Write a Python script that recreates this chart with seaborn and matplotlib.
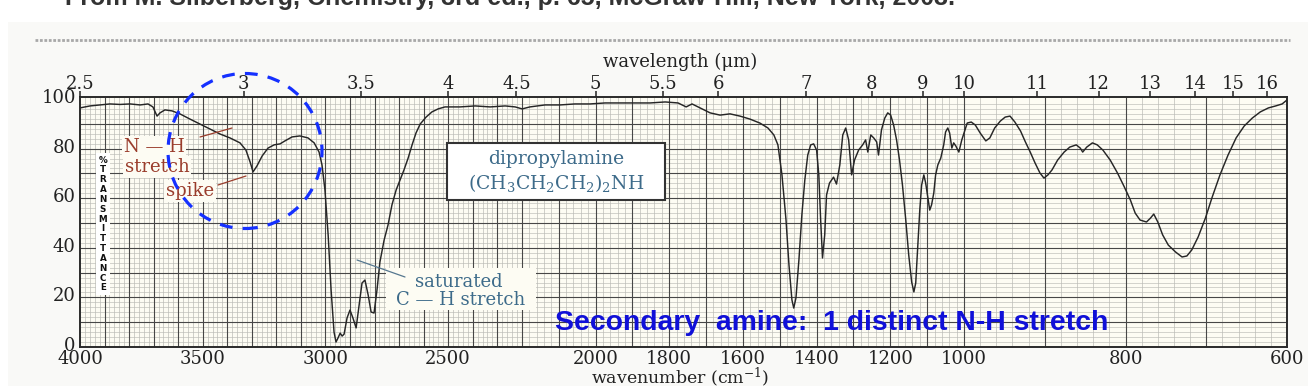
import numpy as np
import pandas as pd
import matplotlib
matplotlib.use('Agg')
import matplotlib.pyplot as plt
import seaborn as sns
from matplotlib.patches import Ellipse, Rectangle
from matplotlib.lines import Line2D
from matplotlib.ticker import NullLocator
from matplotlib.transforms import ScaledTranslation

# ---------------- data ----------------
wavenumber = [4000, 3959, 3918, 3878, 3837, 3796, 3755, 3723, 3703, 3686, 3674, 3654, 3625, 3593,
              3552, 3511, 3470, 3430, 3389, 3348, 3324, 3307, 3295, 3279, 3258, 3234, 3209, 3185,
              3165, 3136, 3104, 3071, 3046, 3026, 3014, 3002, 2989, 2977, 2965, 2957, 2949, 2940,
              2932, 2924, 2912, 2900, 2888, 2875, 2863, 2851, 2839, 2826, 2814, 2802, 2790, 2778,
              2761, 2745, 2729, 2712, 2696, 2680, 2663, 2647, 2631, 2614, 2590, 2566, 2541, 2513,
              2452, 2390, 2329, 2268, 2227, 2199, 2178, 2137, 2096, 2056, 2015, 1974, 1933, 1893,
              1852, 1811, 1776, 1754, 1738, 1716, 1689, 1662, 1635, 1608, 1581, 1554, 1532, 1516,
              1505, 1494, 1483, 1475, 1467, 1462, 1456, 1448, 1440, 1432, 1424, 1416, 1408, 1400,
              1394, 1389, 1384, 1378, 1373, 1365, 1354, 1346, 1337, 1329, 1321, 1313, 1305, 1297,
              1286, 1275, 1267, 1261, 1253, 1245, 1237, 1232, 1224, 1215, 1207, 1199, 1191, 1183,
              1175, 1167, 1158, 1150, 1142, 1136, 1131, 1126, 1120, 1115, 1109, 1104, 1098, 1093,
              1088, 1082, 1077, 1071, 1063, 1055, 1050, 1044, 1039, 1033, 1028, 1022, 1014, 1006,
              1000, 996, 991, 986, 980, 973, 968, 962, 955, 949, 943, 937, 930, 924, 918, 912, 906,
              901, 896, 891, 884, 876, 869, 861, 856, 853, 848, 841, 835, 828, 819, 810, 802, 794,
              788, 782, 774, 769, 765, 760, 754, 747, 738, 730, 724, 718, 710, 701, 693, 683, 673,
              663, 653, 643, 633, 623, 614, 606, 600]
transmittance = [96.4, 97.2, 97.6, 98.0, 97.8, 98.0, 97.6, 98.0, 96.8, 93.1, 94.4, 95.6, 95.2, 94.0,
                 91.9, 89.9, 87.9, 85.9, 84.3, 82.3, 79.4, 74.6, 70.6, 73.0, 77.0, 80.2, 81.5, 81.9,
                 83.1, 84.7, 85.1, 84.3, 82.3, 78.6, 73.4, 63.3, 45.2, 23.0, 6.0, 2.0, 3.6, 5.6,
                 4.4, 5.2, 11.7, 14.9, 11.7, 7.7, 16.9, 25.8, 27.0, 21.0, 14.1, 13.7, 23.0, 34.3,
                 43.1, 49.2, 57.3, 63.3, 67.3, 71.4, 76.2, 81.5, 86.3, 89.9, 92.7, 94.8, 96.0, 96.8,
                 96.8, 97.2, 96.8, 97.2, 96.8, 96.0, 96.8, 97.6, 97.6, 98.0, 98.0, 98.4, 98.4, 98.4,
                 98.4, 98.8, 98.4, 96.8, 98.0, 96.4, 94.4, 93.5, 94.0, 93.1, 91.9, 90.3, 88.3, 85.5,
                 81.5, 69.4, 51.2, 33.1, 19.0, 15.7, 19.8, 35.1, 53.2, 67.3, 77.4, 81.5, 81.9, 79.4,
                 69.4, 51.2, 35.9, 45.2, 61.3, 66.1, 68.5, 65.7, 73.4, 85.5, 88.3, 83.5, 69.4, 75.4,
                 79.4, 81.5, 83.5, 78.6, 85.5, 84.3, 82.7, 77.4, 87.5, 92.3, 94.4, 93.5, 89.5, 83.5,
                 75.4, 65.3, 51.2, 37.1, 26.2, 22.2, 25.8, 39.1, 55.2, 65.3, 69.4, 66.1, 60.1, 55.2,
                 57.3, 62.1, 69.4, 73.4, 76.2, 81.5, 86.7, 88.3, 86.3, 80.2, 82.3, 81.0, 78.6, 83.5,
                 86.3, 90.3, 90.7, 89.5, 86.3, 83.1, 84.3, 88.3, 91.1, 92.7, 93.1, 90.7, 87.1, 82.7,
                 78.6, 74.2, 70.2, 68.1, 69.4, 71.4, 75.4, 78.6, 80.6, 81.5, 80.2, 78.6, 80.6, 82.3,
                 81.5, 79.4, 75.4, 70.2, 64.9, 59.3, 54.0, 51.2, 50.4, 52.0, 53.6, 50.4, 45.2, 41.1,
                 38.3, 36.3, 36.7, 39.1, 44.4, 52.0, 60.1, 69.4, 77.4, 84.3, 89.1, 92.3, 94.8, 96.4,
                 97.2, 98.0, 99.6]
wavenumber_ticks = [4000, 3500, 3000, 2500, 2000, 1800, 1600, 1400, 1200, 1000, 800, 600]
wavelength_ticks = [2.5, 3, 3.5, 4, 4.5, 5, 5.5, 6, 7, 8, 9, 10, 11, 12, 13, 14, 15, 16]
transmittance_ticks = [0, 20, 40, 60, 80, 100]

df = pd.DataFrame({'wavenumber': wavenumber, 'transmittance': transmittance})

# ---------------- style ----------------
sns.set_theme(style='white')
plt.rcParams['font.family'] = ['DejaVu Serif']
plt.rcParams['mathtext.fontset'] = 'dejavuserif'

W, H = 1308, 386
fig = plt.figure(figsize=(W / 100, H / 100), dpi=100)
fig.patch.set_facecolor('white')


def fx(px):
    return px / W


def fy(py):
    return 1 - py / H


# faint page background of the scan
fig.add_artist(Rectangle((fx(8), 0), 1 - fx(8), fy(22), transform=fig.transFigure,
                         facecolor='#f9f9f7', edgecolor='none', zorder=-10))

# piecewise-linear chart-paper scale (IR paper: expanded below 2200 and 1000 cm-1)
_wn_bp = [600, 1000, 2200, 4000]
_pos_bp = [0, 323, 765.2, 1207]


def fwd(v):
    return np.interp(v, _wn_bp, _pos_bp)


def inv(v):
    return np.interp(v, _pos_bp, _wn_bp)


ax = fig.add_axes([fx(80), fy(347), fx(1287) - fx(80), fy(97) - fy(347)])
ax.set_facecolor('#fdfcf3')
ax.set_xscale('function', functions=(fwd, inv))
ax.set_xlim(4000, 600)
ax.set_ylim(0, 100.8)

# chart paper grid
minor_v = [v for v in range(600, 4001, 20) if v % 100]
major_v = list(range(700, 4000, 100))
ax.vlines(minor_v, 0, 100.8, colors='#b6b6b0', linewidth=0.45, zorder=1)
ax.vlines(major_v, 0, 100.8, colors='#474747', linewidth=0.8, zorder=1.1)
minor_h = [v for v in range(2, 100, 2) if v % 10]
major_h = list(range(10, 100, 10))
ax.hlines(minor_h, 600, 4000, colors='#bbbbb6', linewidth=0.45, zorder=1)
ax.hlines(major_h, 600, 4000, colors='#474747', linewidth=0.8, zorder=1.1)

sns.lineplot(data=df, x='wavenumber', y='transmittance', sort=False, estimator=None,
             color='#262626', linewidth=1.05, ax=ax, zorder=3)

ax.set_xlabel('')
ax.set_ylabel('')
ax.set_xticks(wavenumber_ticks)
ax.set_xticklabels([str(v) for v in wavenumber_ticks])
ax.xaxis.set_minor_locator(NullLocator())
ax.set_yticks(transmittance_ticks)
ax.set_yticklabels([str(v) for v in transmittance_ticks])
ax.tick_params(axis='x', length=0, pad=2.5, labelsize=13, colors='#222222')
ax.tick_params(axis='y', length=0, pad=3, labelsize=13, colors='#222222')
for lab in ax.get_yticklabels():
    lab.set_transform(lab.get_transform() + ScaledTranslation(0, 3 / 100, fig.dpi_scale_trans))
for s in ax.spines.values():
    s.set_color('#2a2a2a')
    s.set_linewidth(1.4)
    s.set_visible(True)

# top wavelength axis
ax2 = ax.twiny()
ax2.set_xscale('function', functions=(fwd, inv))
ax2.set_xlim(4000, 600)
ax2.set_xticks([1e4 / w for w in wavelength_ticks])
ax2.set_xticklabels([f'{w:g}' for w in wavelength_ticks])
ax2.xaxis.set_minor_locator(NullLocator())
ax2.tick_params(axis='x', direction='out', length=4, width=1.1, pad=-1, labelsize=13,
                colors='#222222')
for s in ax2.spines.values():
    s.set_visible(False)

fig.text(fx(680), fy(62), 'wavelength (\u03bcm)', ha='center', va='center', fontsize=13,
         color='#222222')
fig.text(fx(680), fy(383), r'wavenumber (cm$^{-1}$)', ha='center', va='baseline', fontsize=12.5,
         color='#222222')

# vertical %TRANSMITTANCE label
fig.text(fx(103), fy(224), '\n'.join('%TRANSMITTANCE'), ha='center', va='center',
         fontsize=6.3, fontweight='bold', family='DejaVu Sans', linespacing=1.12,
         color='#111111', zorder=6,
         bbox=dict(boxstyle='square,pad=0.25', facecolor='white', edgecolor='none'))

# source line at the very top (cut off in the scan)
fig.text(fx(65), fy(5), 'From M. Silberberg, Chemistry, 3rd ed., p. 65, McGraw-Hill, New York, 2003.',
         ha='left', va='baseline', fontsize=18, fontweight='bold', family='Liberation Sans',
         color='#333333')
fig.add_artist(Line2D([fx(35), fx(1290)], [fy(40), fy(40)], transform=fig.transFigure,
                      color='#a8a8a8', linewidth=2.0, linestyle=(0, (1, 0.6))))

# N-H stretch annotation
brown = '#9a3d2c'
bg = '#fdfcf3'
fig.text(fx(154), fy(147), 'N \u2014 H', ha='center', va='center', fontsize=13, color=brown,
         zorder=6, bbox=dict(boxstyle='square,pad=0.1', facecolor=bg, edgecolor='none'))
fig.text(fx(157), fy(167), 'stretch', ha='center', va='center', fontsize=13, color=brown,
         zorder=6, bbox=dict(boxstyle='square,pad=0.1', facecolor=bg, edgecolor='none'))
fig.text(fx(190), fy(191), 'spike', ha='center', va='center', fontsize=13, color=brown,
         zorder=6, bbox=dict(boxstyle='square,pad=0.1', facecolor=bg, edgecolor='none'))
fig.add_artist(Line2D([fx(200), fx(232)], [fy(137), fy(128)], transform=fig.transFigure,
                      color=brown, linewidth=0.9, zorder=6))
fig.add_artist(Line2D([fx(218), fx(246)], [fy(185), fy(176)], transform=fig.transFigure,
                      color=brown, linewidth=0.9, zorder=6))

# dipropylamine box
steel = '#3d6b8a'
fig.add_artist(Rectangle((fx(447), fy(200)), fx(665) - fx(447), fy(143) - fy(200),
                         transform=fig.transFigure, facecolor='white', edgecolor='#333333',
                         linewidth=1.5, zorder=5))
fig.text(fx(556), fy(159), 'dipropylamine', ha='center', va='center', fontsize=13.5,
         color=steel, zorder=6)
fig.text(fx(556), fy(183), r'(CH$_3$CH$_2$CH$_2$)$_2$NH', ha='center', va='center',
         fontsize=13.5, color=steel, zorder=6)

# saturated C-H stretch annotation
fig.add_artist(Rectangle((fx(386), fy(310)), fx(536) - fx(386), fy(268) - fy(310),
                         transform=fig.transFigure, facecolor=bg, edgecolor='none', zorder=5))
fig.text(fx(459), fy(282), 'saturated', ha='center', va='center', fontsize=13, color=steel,
         zorder=6)
fig.text(fx(461), fy(300), 'C \u2014 H stretch', ha='center', va='center', fontsize=13,
         color=steel, zorder=6)
fig.add_artist(Line2D([fx(405), fx(357)], [fy(277), fy(260)], transform=fig.transFigure,
                      color='#55778f', linewidth=0.9, zorder=6))

# highlight circle and note
fig.add_artist(Ellipse((fx(245), fy(151)), fx(154), 155 / H, transform=fig.transFigure,
                       facecolor='none', edgecolor='#1530ff', linewidth=2.3,
                       linestyle=(0, (4, 3.2)), zorder=7))
fig.text(fx(555), fy(323), 'Secondary  amine:  1 distinct N-H stretch', ha='left', va='center',
         fontsize=20.4, fontweight='bold', family='Liberation Sans', color='#1010d8', zorder=7)

fig.savefig('out.png', dpi=100)
